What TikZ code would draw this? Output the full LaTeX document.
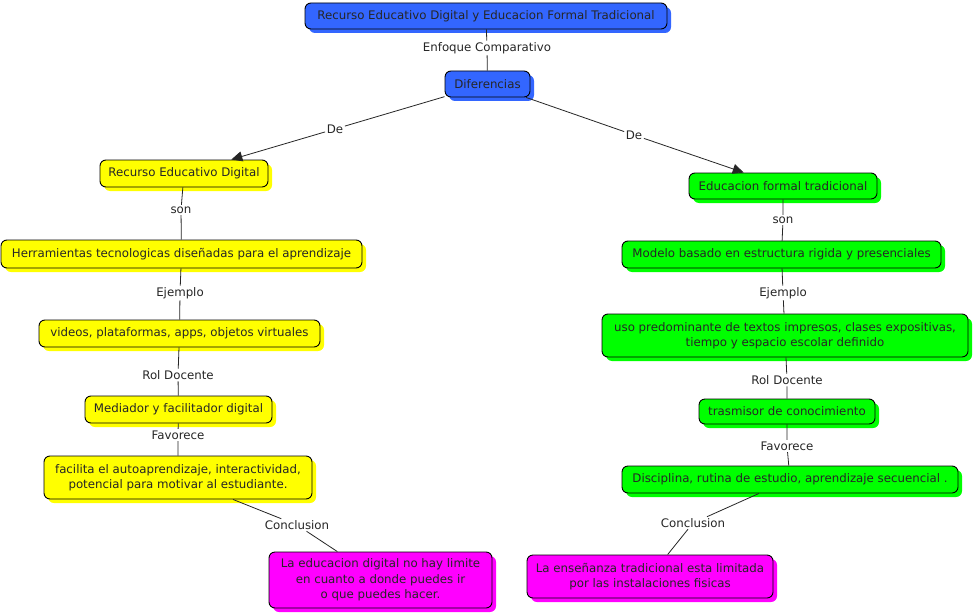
\documentclass[tikz,border=0pt]{standalone}
\usepackage{fontspec}
\setmainfont{DejaVu Sans}
\usetikzlibrary{shadows,arrows.meta}
\definecolor{cblue}{RGB}{51,102,255}
\definecolor{cyel}{RGB}{255,255,0}
\definecolor{cgrn}{RGB}{0,255,0}
\definecolor{cmag}{RGB}{255,0,255}
\tikzset{
  box/.style={draw=black, line width=0.9pt, rounded corners=6pt, align=center,
    inner sep=0pt, font=\fontsize{11.8}{15.5}\selectfont, text=black!85},
  bluebox/.style={box, fill=cblue, general shadow={fill=cblue, shadow xshift=4pt, shadow yshift=-4pt}},
  yelbox/.style={box, fill=cyel, general shadow={fill=cyel, shadow xshift=4pt, shadow yshift=-4pt}},
  grnbox/.style={box, fill=cgrn, general shadow={fill=cgrn, shadow xshift=4pt, shadow yshift=-4pt}},
  magbox/.style={box, fill=cmag, general shadow={fill=cmag, shadow xshift=4pt, shadow yshift=-4pt}},
  lbl/.style={fill=white, inner sep=1.5pt, font=\fontsize{11.8}{14}\selectfont, text=black!85},
  link/.style={draw=black!85, line width=0.8pt},
  arr/.style={link, -{Triangle[length=11pt,width=10pt]}}
}
\begin{document}
\begin{tikzpicture}[x=1pt,y=-1pt]
\useasboundingbox[fill=white] (0,0) rectangle (973,615);
% boxes
\node[bluebox, minimum width=362, minimum height=26] (top) at (486,16) {Recurso Educativo Digital y Educacion Formal Tradicional};
\node[bluebox, minimum width=85, minimum height=26] (dif) at (487.5,84) {Diferencias};
\node[yelbox, minimum width=168, minimum height=27] (rec) at (184,173.5) {Recurso Educativo Digital};
\node[grnbox, minimum width=188, minimum height=26] (edu) at (783,186) {Educacion formal tradicional};
\node[yelbox, minimum width=361, minimum height=28] (her) at (181.5,254) {Herramientas tecnologicas diseñadas para el aprendizaje};
\node[yelbox, minimum width=281, minimum height=27] (vid) at (179.5,333.5) {videos, plataformas, apps, objetos virtuales};
\node[yelbox, minimum width=187, minimum height=27] (med) at (178.5,409.5) {Mediador y facilitador digital};
\node[yelbox, minimum width=268, minimum height=43] (fac) at (178,477.5) {facilita el autoaprendizaje, interactividad,\\potencial para motivar al estudiante.};
\node[magbox, minimum width=223, minimum height=56] (magL) at (380.5,580) {La educacion digital no hay limite\\en cuanto a donde puedes ir\\o que puedes hacer.};
\node[grnbox, minimum width=319, minimum height=27] (mod) at (781.5,254.5) {Modelo basado en estructura rigida y presenciales};
\node[grnbox, minimum width=366, minimum height=43] (uso) at (785,335.5) {uso predominante de textos impresos, clases expositivas,\\tiempo y espacio escolar definido};
\node[grnbox, minimum width=176, minimum height=25] (tra) at (787,411.5) {trasmisor de conocimiento};
\node[grnbox, minimum width=336, minimum height=27] (dis) at (790,479.5) {Disciplina, rutina de estudio, aprendizaje secuencial .};
\node[magbox, minimum width=246, minimum height=43] (magR) at (650,576.5) {La enseñanza tradicional esta limitada\\por las instalaciones fisicas};
% labels
\node[lbl] (l1) at (487,48) {Enfoque Comparativo};
\node[lbl] (l2) at (335,129) {De};
\node[lbl] (l3) at (634,135) {De};
\node[lbl] (l4) at (181,210) {son};
\node[lbl] (l5) at (180,293) {Ejemplo};
\node[lbl] (l6) at (178,375) {Rol Docente};
\node[lbl] (l7) at (178,435) {Favorece};
\node[lbl] (l8) at (297,525) {Conclusion};
\node[lbl] (r4) at (783,220) {son};
\node[lbl] (r5) at (783,293) {Ejemplo};
\node[lbl] (r6) at (787,380) {Rol Docente};
\node[lbl] (r7) at (787,446) {Favorece};
\node[lbl] (r8) at (693,523) {Conclusion};
% links
\draw[link] (top) -- (l1) -- (dif);
\draw[link] (dif) -- (l2);
\draw[arr] (l2) -- (rec);
\draw[link] (dif) -- (l3);
\draw[arr] (l3) -- (edu);
\draw[link] (rec) -- (l4) -- (her);
\draw[link] (her) -- (l5) -- (vid);
\draw[link] (vid) -- (l6) -- (med);
\draw[link] (med) -- (l7) -- (fac);
\draw[link] (fac) -- (l8) -- (magL);
\draw[link] (edu) -- (r4) -- (mod);
\draw[link] (mod) -- (r5) -- (uso);
\draw[link] (uso) -- (r6) -- (tra);
\draw[link] (tra) -- (r7) -- (dis);
\draw[link] (dis) -- (r8) -- (magR);
\end{tikzpicture}
\end{document}
